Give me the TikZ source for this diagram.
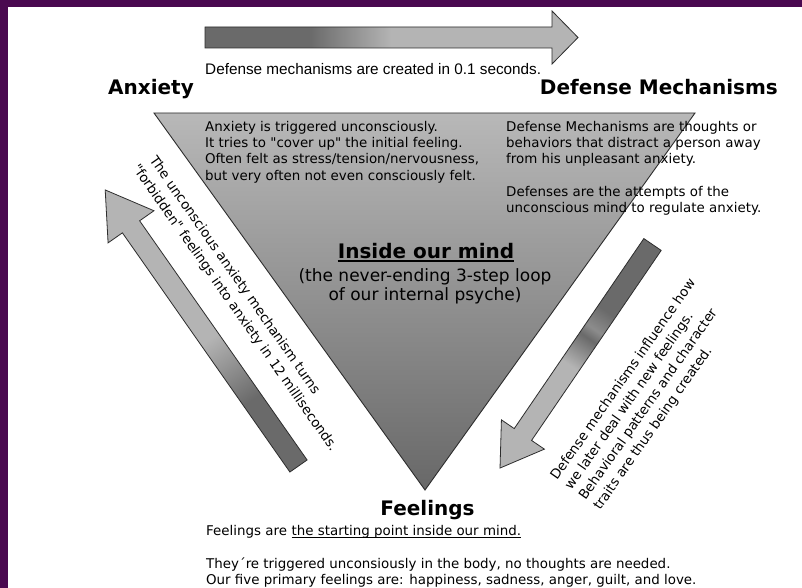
\documentclass[tikz,border=0pt]{standalone}
\usepackage{fontspec}
\setmainfont{DejaVu Sans}
\newfontfamily\capfont{Liberation Sans}
\usetikzlibrary{calc}

\definecolor{framepurple}{RGB}{74,9,80}
\definecolor{gdark}{RGB}{106,106,106}
\definecolor{gmid}{RGB}{140,140,140}
\definecolor{glight}{RGB}{180,180,180}
\definecolor{edgegray}{RGB}{45,45,45}
\definecolor{tritop}{RGB}{184,184,184}
\definecolor{tribot}{RGB}{104,104,104}

% gradients for the three block arrows (path box maps to 25bp..75bp)
\pgfdeclarehorizontalshading{topgrad}{100bp}{color(0bp)=(gdark); color(25bp)=(gdark); color(39bp)=(gdark); color(44bp)=(gmid); color(50bp)=(glight); color(75bp)=(glight); color(100bp)=(glight)}
\pgfdeclarehorizontalshading{leftgrad}{100bp}{color(0bp)=(gdark); color(25bp)=(gdark); color(37bp)=(gdark); color(48bp)=(glight); color(75bp)=(glight); color(100bp)=(glight)}
\pgfdeclarehorizontalshading{rightgrad}{100bp}{color(0bp)=(gdark); color(25bp)=(gdark); color(40bp)=(gdark); color(44bp)=(gmid); color(46bp)=(gdark); color(52bp)=(glight); color(75bp)=(glight); color(100bp)=(glight)}

\tikzset{
  body/.style={font=\fontsize{13.4}{16}\selectfont, inner sep=0pt},
  heading/.style={font=\fontsize{20}{24}\selectfont\bfseries, inner sep=0pt},
  subtitle/.style={font=\fontsize{17}{20}\selectfont, inner sep=0pt},
  caption/.style={font=\capfont\fontsize{15.3}{17}\selectfont, inner sep=0pt},
  blockarrow/.style={draw=edgegray, line width=0.8pt, line join=miter},
}

\begin{document}
\begin{tikzpicture}[x=1pt,y=-1pt]
  % page and frame
  \fill[white] (0,0) rectangle (802,588);
  \useasboundingbox (0,0) rectangle (802,588);
  \fill[framepurple] (0,0) rectangle (802,7);
  \fill[framepurple] (0,0) rectangle (8,588);

  % top arrow: Anxiety -> Defense Mechanisms
  \shade[blockarrow, shading=topgrad]
    (205,27) -- (552,27) -- (552,11) -- (578,37.5) -- (552,64) -- (552,48) -- (205,48) -- cycle;
  \node[caption, anchor=base west] (capt) at (205,75) {Defense mechanisms are created in 0.1 seconds.};

  % corner headings
  \node[heading, anchor=base west] (anx) at (108,95) {Anxiety};
  \node[heading, anchor=base east] (dm) at (778,95) {Defense Mechanisms};

  % the inverted triangle
  \shade[top color=tritop, bottom color=tribot, draw=edgegray, line width=0.9pt, line join=miter]
    (154,113) -- (695,113) -- (425,490) -- cycle;

  % texts inside the triangle
  \node[body, anchor=base west] (a1) at (205,132) {Anxiety is triggered unconsciously.};
  \node[body, anchor=base west] (a2) at (205,148) {It tries to \textquotedbl cover up\textquotedbl\ the initial feeling.};
  \node[body, anchor=base west] (a3) at (205,164) {Often felt as stress/tension/nervousness,};
  \node[body, anchor=base west] (a4) at (205,180) {but very often not even consciously felt.};

  \node[body, anchor=base west] (d1) at (506,132) {Defense Mechanisms are thoughts or};
  \node[body, anchor=base west] (d2) at (506,148) {behaviors that distract a person away};
  \node[body, anchor=base west] (d3) at (506,164) {from his unpleasant anxiety.};
  \node[body, anchor=base west] (d4) at (506,196) {Defenses are the attempts of the};
  \node[body, anchor=base west] (d5) at (506,212) {unconscious mind to regulate anxiety.};

  \node[heading, anchor=base] (inside) at (426,258) {Inside our mind};
  \draw[line width=1.2pt] ([yshift=-3pt]inside.base west) -- ([yshift=-3pt]inside.base east);
  \node[subtitle, anchor=base] (loop1) at (425,281) {(the never-ending 3-step loop};
  \node[subtitle, anchor=base] (loop2) at (425,300) {of our internal psyche)};

  % left arrow: Feelings -> Anxiety
  \begin{scope}[transform canvas={shift={(298.5,466)}, rotate=125}]
    \shade[blockarrow, shading=leftgrad]
      (0,-10.5) -- (292,-10.5) -- (292,-28) -- (337,0) -- (292,28) -- (292,10.5) -- (0,10.5) -- cycle;
  \end{scope}
  \node[body, rotate=-55, anchor=base west] (l1) at (149,160) {The unconscious anxiety mechanism turns};
  \node[body, rotate=-55, anchor=base west] (l2) at (132,168) {\textquotedbl forbidden\textquotedbl\ feelings into anxiety in 12 milliseconds.};

  % right arrow: Defense Mechanisms -> Feelings
  \begin{scope}[transform canvas={shift={(652.5,244.5)}, rotate=-124.3}]
    \shade[blockarrow, shading=rightgrad]
      (0,-10.5) -- (230,-10.5) -- (230,-26) -- (270.6,0) -- (230,26) -- (230,10.5) -- (0,10.5) -- cycle;
  \end{scope}
  \node[body, rotate=55, anchor=base west] (r1) at (557,481) {Defense mechanisms influence how};
  \node[body, rotate=55, anchor=base west] (r2) at (571.3,491) {we later deal with new feelings.};
  \node[body, rotate=55, anchor=base west] (r3) at (585.6,501) {Behavioral patterns and character};
  \node[body, rotate=55, anchor=base west] (r4) at (600,511) {traits are thus being created.};

  % bottom heading and notes
  \node[heading, anchor=base] (feel) at (427.5,515) {Feelings};
  \node[body, anchor=base west] (f1) at (206,535) {Feelings are};
  \node[body, anchor=base west] (f2) at ([xshift=4.3pt]f1.base east) {the starting point inside our mind.};
  \draw[line width=0.7pt] ([yshift=-2.5pt]f2.base west) -- ([yshift=-2.5pt]f2.base east);
  \node[body, anchor=base west] (f3) at (206,568) {They´re triggered unconsiously in the body, no thoughts are needed.};
  \node[body, anchor=base west] (f4) at (206,584) {Our five primary feelings are: happiness, sadness, anger, guilt, and love.};
\end{tikzpicture}
\end{document}
